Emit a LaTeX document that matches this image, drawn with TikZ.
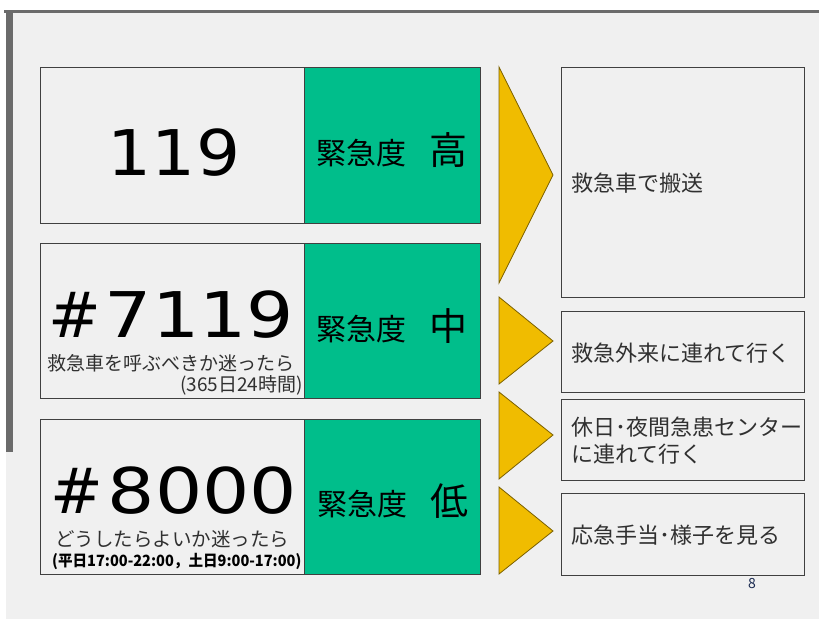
\documentclass[tikz,border=0pt]{standalone}
\usepackage{fontspec}
\setmainfont{Noto Sans CJK JP}
\newfontfamily\jp{Noto Sans CJK JP}
\newfontfamily\digitfont{DejaVu Sans}
\definecolor{bg}{HTML}{F0F0F0}
\definecolor{frame}{HTML}{6B6B6B}
\definecolor{boxline}{HTML}{404040}
\definecolor{urgent}{HTML}{00BE8B}
\definecolor{gold}{HTML}{F0BC00}
\definecolor{goldedge}{HTML}{7A6000}
\definecolor{txt}{HTML}{303030}
\definecolor{pageno}{HTML}{1A2A50}
\newcommand{\widenum}[2][1.1]{\scalebox{#1}[1]{#2}}
\tikzset{
  panel/.style={draw=boxline, line width=1.1pt, fill=bg, inner sep=0pt, anchor=north west},
  greenbox/.style={draw=boxline, line width=1.1pt, fill=urgent, inner sep=0pt, anchor=north west},
  tri/.style={draw=goldedge, line width=0.8pt, fill=gold, line join=miter},
  bignum/.style={inner sep=0pt, anchor=base west, font=\digitfont\fontsize{63}{70}\selectfont, text=black},
  subtxt/.style={inner sep=0pt, text=txt, font=\jp\fontsize{19}{22}\selectfont},
  lvl/.style={inner sep=0pt, anchor=base west, text=black, font=\jp\fontsize{30}{34}\selectfont},
  lvlbig/.style={inner sep=0pt, anchor=base west, text=black, font=\jp\fontsize{38}{40}\selectfont},
  restxt/.style={inner sep=0pt, anchor=base west, text=txt, font=\jp\fontsize{22}{26}\selectfont},
}
\begin{document}
\begin{tikzpicture}[x=1pt,y=-1pt]
\useasboundingbox (0,0) rectangle (819,619);
\fill[white] (0,0) rectangle (819,619);
\fill[bg] (6,10) rectangle (819,619);
\fill[frame] (4,10) rectangle (819,13);
\fill[frame] (6,10) rectangle (12.5,452);

% row 1
\node[panel, minimum width=264pt, minimum height=156pt] (p1) at (40,67) {};
\node[greenbox, minimum width=176pt, minimum height=156pt] (g1) at (304,67) {};
\node[bignum, anchor=base] (n1) at (174,175) {\widenum{119}};
\node[lvl] (l1) at (316,164) {緊急度};
\node[lvlbig] (h1) at (429,164) {高};

% row 2
\node[panel, minimum width=264pt, minimum height=155pt] (p2) at (40,243) {};
\node[greenbox, minimum width=176pt, minimum height=155pt] (g2) at (304,243) {};
\node[bignum] (n2) at (48,337) {\#\hspace{4pt}\widenum[1.18]{7119}};
\node[subtxt, anchor=base west] (s2) at (47,370) {救急車を呼ぶべきか迷ったら};
\node[subtxt, anchor=base east] (t2) at (303,391) {(365日24時間)};
\node[lvl] (l2) at (316,340) {緊急度};
\node[lvlbig] (h2) at (429,340) {中};

% row 3
\node[panel, minimum width=264pt, minimum height=155pt] (p3) at (40,419) {};
\node[greenbox, minimum width=176pt, minimum height=155pt] (g3) at (304,419) {};
\node[bignum] (n3) at (50,513) {\#\hspace{5pt}\widenum[1.18]{8000}};
\node[subtxt, anchor=base west, font=\jp\fontsize{19.5}{22}\selectfont] (s3) at (55,546) {どうしたらよいか迷ったら};
\node[inner sep=0pt, anchor=base west, text=black, font=\jp\bfseries\fontsize{15.5}{18}\selectfont] (t3) at (52,566) {\scalebox{0.94}[1]{(平日17:00-22:00，土日9:00-17:00)}};
\node[lvl] (l3) at (317,515) {緊急度};
\node[lvlbig] (h3) at (430,515) {低};

% arrows (triangles)
\draw[tri] (499,67) -- (553,175) -- (499,283) -- cycle;
\draw[tri] (499,297) -- (553,341) -- (499,384) -- cycle;
\draw[tri] (499,392) -- (553,435) -- (499,479) -- cycle;
\draw[tri] (499,487) -- (553,531) -- (499,574) -- cycle;

% result boxes
\node[panel, minimum width=243pt, minimum height=230pt] (r1) at (561,67) {};
\node[panel, minimum width=243pt, minimum height=81pt] (r2) at (561,311) {};
\node[panel, minimum width=243pt, minimum height=81pt] (r3) at (561,399) {};
\node[panel, minimum width=243pt, minimum height=82pt] (r4) at (561,493) {};
\node[restxt] (x1) at (571,191) {救急車で搬送};
\node[restxt] (x2) at (571,361) {救急外来に連れて行く};
\node[restxt] (x3) at (571,435) {休日･夜間急患センター};
\node[restxt] (x3b) at (571,462) {に連れて行く};
\node[restxt] (x4) at (571,543) {応急手当･様子を見る};

\node[inner sep=0pt, anchor=base, text=pageno, font=\jp\fontsize{14}{16}\selectfont] (pg) at (752,588) {8};
\end{tikzpicture}
\end{document}
